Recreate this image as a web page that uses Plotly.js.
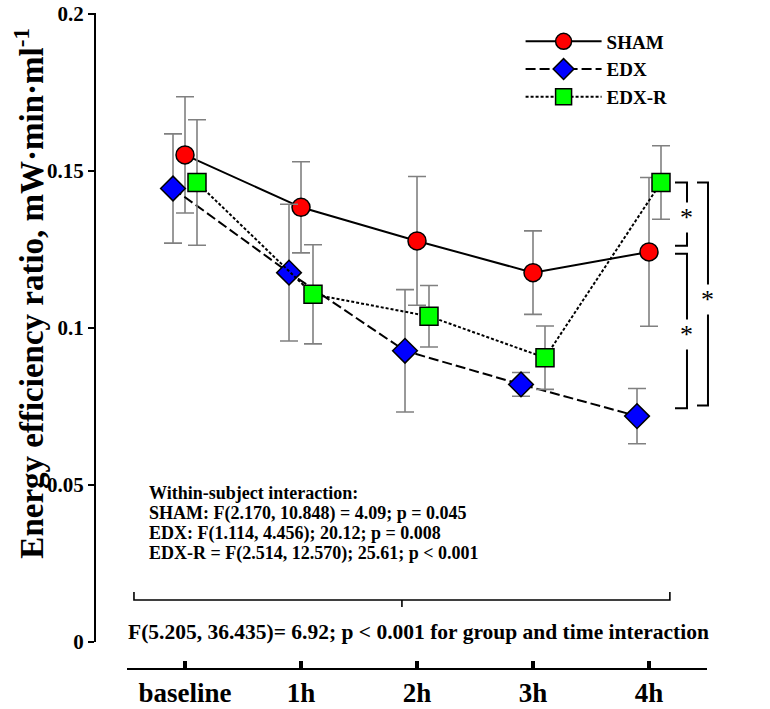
<!DOCTYPE html>
<html>
<head>
<meta charset="utf-8">
<script src="https://cdn.plot.ly/plotly-3.0.1.min.js"></script>
<style>
  html, body { margin: 0; padding: 0; background: #fff; }
  #myDiv { width: 770px; height: 709px; }
</style>
</head>
<body>
<div id="myDiv"></div>
<script>
// time points on the x axis
var timepoints = ['baseline', '1h', '2h', '3h', '4h'];

// group means and error bars
var shamMean = [0.155, 0.1383, 0.1276, 0.1175, 0.1241];
var shamErr  = [0.0185, 0.0145, 0.0205, 0.0133, 0.0237];
var edxMean  = [0.1443, 0.1175, 0.0926, 0.0819, 0.0718];
var edxErr   = [0.0174, 0.0218, 0.0195, 0.0038, 0.0088];
var edxrMean = [0.1462, 0.1106, 0.1036, 0.0904, 0.1462];
var edxrErr  = [0.0200, 0.0158, 0.0098, 0.0101, 0.0117];

var yTicks = [0, 0.05, 0.1, 0.15, 0.2];
var yTickText = ['0', '0.05', '0.1', '0.15', '0.2'];

var statsLines = [
    'Within-subject interaction:',
    'SHAM: F(2.170, 10.848) = 4.09; p = 0.045',
    'EDX: F(1.114, 4.456); 20.12; p = 0.008',
    'EDX-R = F(2.514, 12.570); 25.61; p < 0.001'
];
var groupTimeText = 'F(5.205, 36.435)= 6.92; p < 0.001 for group and time interaction';

var serif = 'Liberation Serif, Times New Roman, serif';
var dodge = 0.1034;
var idx = timepoints.map(function (t, i) { return i; });
var shift = function (d) { return idx.map(function (i) { return i + d; }); };

var errStyle = function (arr) {
    return { type: 'data', array: arr, visible: true, color: '#808080', thickness: 1.6, width: 9 };
};

var shamData = {
    x: shift(0), y: shamMean, error_y: errStyle(shamErr),
    type: 'scatter', mode: 'lines+markers', name: 'SHAM',
    line: { color: '#000', width: 2 },
    marker: { symbol: 'circle', size: 18, color: '#ff0000', line: { color: '#000', width: 1.5 } },
    cliponaxis: false
};

var edxData = {
    x: shift(-dodge), y: edxMean, error_y: errStyle(edxErr),
    type: 'scatter', mode: 'lines+markers', name: 'EDX',
    line: { color: '#000', width: 2, dash: '10px,4px' },
    marker: { symbol: 'diamond', size: 19, color: '#0000ff', line: { color: '#000', width: 1.5 } },
    cliponaxis: false
};

var edxrData = {
    x: shift(dodge), y: edxrMean, error_y: errStyle(edxrErr),
    type: 'scatter', mode: 'lines+markers', name: 'EDX-R',
    line: { color: '#000', width: 2, dash: '3px,2px' },
    marker: { symbol: 'square', size: 18, color: '#00ff00', line: { color: '#000', width: 1.5 } },
    cliponaxis: false
};

// significance brackets at 4h, spanning the compared group means
// (x in paper units so they may sit past the end of the x axis)
var top4 = edxrMean[4], mid4 = shamMean[4], bot4 = edxMean[4];
var xi0 = 0.9477, xi1 = 0.9673, xo0 = 0.9837, xo1 = 1.0016;
function bracket(x0, x1, ya, yb) {
    return {
        type: 'path', xref: 'paper', yref: 'y', line: { color: '#000', width: 2 },
        path: 'M' + x0 + ',' + ya + ' L' + x1 + ',' + ya + ' L' + x1 + ',' + yb + ' L' + x0 + ',' + yb
    };
}

var shapes = [
    bracket(xi0, xi1, top4, mid4 + 0.002),
    bracket(xi0, xi1, mid4 - 0.0006, bot4 + 0.0025),
    bracket(xo0, xo1, top4, bot4 + 0.0034),
    // bracket for the group x time interaction
    { type: 'path', xref: 'x', yref: 'paper', line: { color: '#000', width: 1.6 },
      path: 'M-0.44,0.1174 L-0.44,0.1052 L4.18,0.1052 L4.18,0.1174' },
    { type: 'line', xref: 'x', yref: 'paper', x0: 1.87, x1: 1.87, y0: 0.1052, y1: 0.0945,
      line: { color: '#000', width: 1.6 } }
];

function star(x, y) {
    return { x: x, y: y, xref: 'paper', yref: 'y', xanchor: 'center', yanchor: 'middle',
             text: '*', showarrow: false, bgcolor: '#fff', borderpad: 0,
             font: { family: serif, size: 26, color: '#000' } };
}

var annotations = [
    star(xi1, (top4 + mid4) / 2),
    star(xi1, (mid4 + bot4) / 2),
    star(xo1, (top4 + bot4) / 2),
    { x: 2.01, y: 0.0564, xref: 'x', yref: 'paper', xanchor: 'center', yanchor: 'middle',
      showarrow: false, text: groupTimeText,
      font: { family: serif, size: 21.5, color: '#000', weight: 'bold' } },
    { x: -0.107, y: 0.573, xref: 'paper', yref: 'paper', xanchor: 'center', yanchor: 'middle',
      textangle: -90, showarrow: false,
      text: 'Energy efficiency ratio, mW·min·ml<sup>-1</sup>',
      font: { family: serif, size: 33, color: '#000', weight: 'bold' } }
];

// one annotation per line of the within-subject block
var statsY = [0.2683, 0.2378, 0.2073, 0.1768];
statsLines.forEach(function (line, i) {
    annotations.push({
        x: 0.085, y: statsY[i], xref: 'paper', yref: 'paper', xanchor: 'left', yanchor: 'middle',
        align: 'left', showarrow: false, text: line,
        font: { family: serif, size: 18, color: '#000', weight: 'bold' }
    });
});

var layout = {
    width: 770,
    height: 709,
    margin: { l: 95, r: 63, t: 13, b: 40 },
    paper_bgcolor: '#fff',
    plot_bgcolor: '#fff',
    font: { family: serif, color: '#000' },
    showlegend: true,
    legend: {
        x: 0.6954, y: 0.9855, xanchor: 'left', yanchor: 'top',
        bgcolor: 'rgba(0,0,0,0)', itemwidth: 76,
        font: { family: serif, size: 19, weight: 'bold', color: '#000' }
    },
    xaxis: {
        domain: [0.0523, 1],
        anchor: 'free', position: 0,
        range: [-0.5, 4.5],
        tickvals: idx, ticktext: timepoints,
        ticks: 'inside', ticklen: 7, tickwidth: 4, tickcolor: '#000',
        showline: true, linecolor: '#000', linewidth: 2,
        showgrid: false, zeroline: false,
        tickfont: { family: serif, size: 27, weight: 'bold', color: '#000' }
    },
    yaxis: {
        domain: [0.0419, 1],
        anchor: 'free', position: 0,
        range: [0, 0.2002],
        tickvals: yTicks, ticktext: yTickText,
        ticks: 'outside', ticklen: 6, tickwidth: 2, tickcolor: '#000',
        ticklabeloverflow: 'allow',
        showline: true, linecolor: '#000', linewidth: 2,
        showgrid: false, zeroline: false,
        tickfont: { family: serif, size: 21, weight: 'bold', color: '#000' }
    },
    shapes: shapes,
    annotations: annotations
};

var data = [shamData, edxData, edxrData];

Plotly.newPlot('myDiv', data, layout, { displayModeBar: false });
</script>
</body>
</html>
